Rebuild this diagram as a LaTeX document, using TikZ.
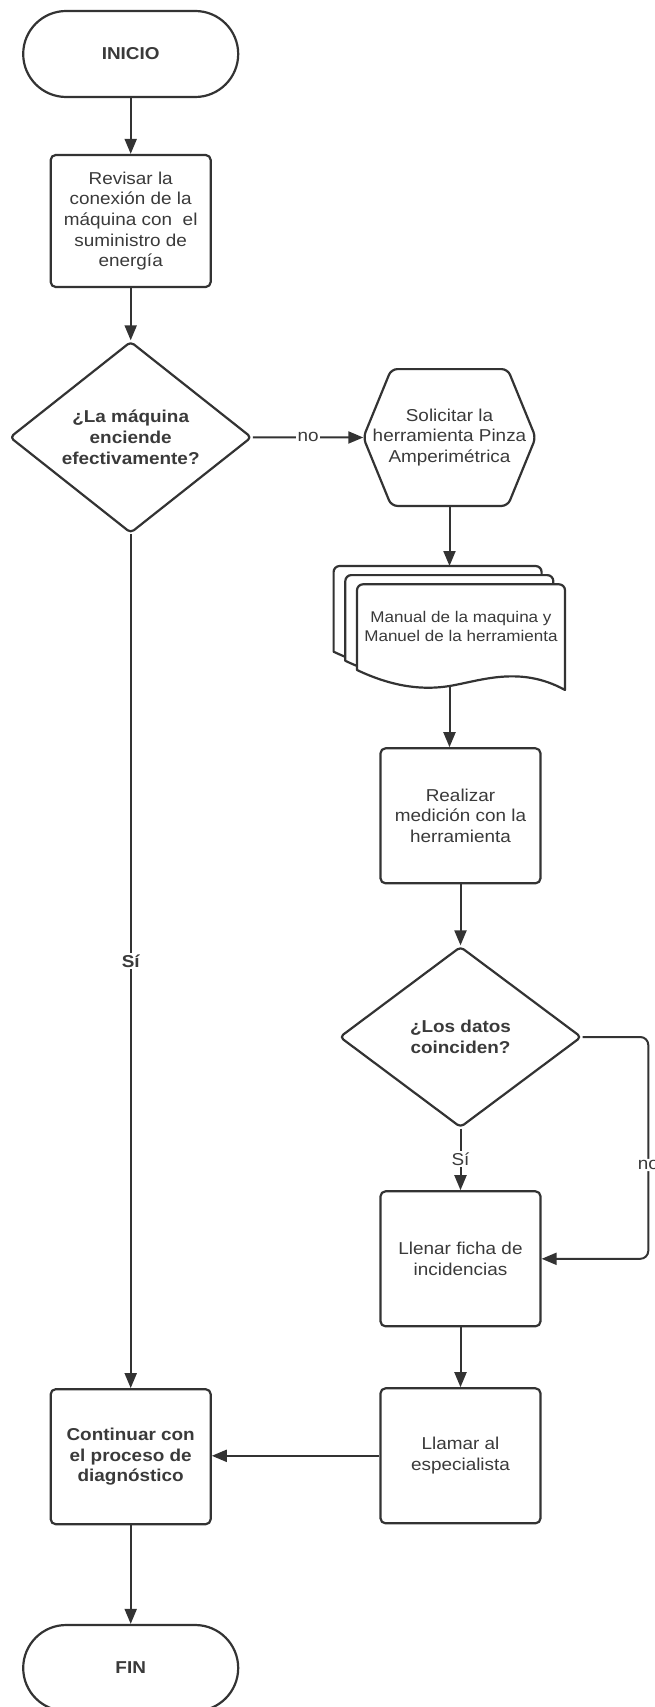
\documentclass[tikz,border=0pt]{standalone}
\usepackage{fontspec}
\setmainfont{Liberation Sans}[FakeStretch=1.1]
\usetikzlibrary{arrows.meta,shapes.geometric,calc}
\definecolor{ink}{HTML}{333333}
\definecolor{txt}{HTML}{3A3A3A}
\newcommand\mainsz{\fontsize{17.2pt}{20.6pt}\selectfont}
\newcommand\docsz{\fontsize{15.5pt}{19pt}\selectfont}

\begin{document}
\begin{tikzpicture}[x=1pt,y=-1pt,
  shp/.style={draw=ink, line width=2.2pt, fill=white, line join=round},
  proc/.style={shp, rectangle, rounded corners=5pt, minimum width=160pt,
    minimum height=135pt, inner sep=0pt, align=center, font=\mainsz, text=txt},
  term/.style={shp, rectangle, rounded corners=43pt, minimum width=215pt,
    minimum height=86pt, font=\mainsz\bfseries, text=txt},
  dec/.style={shp, diamond, minimum width=242pt, minimum height=182pt,
    inner sep=0pt, align=center, font=\mainsz\bfseries, text=txt, rounded corners=4pt},
  conn/.style={draw=ink, line width=2pt, -{Triangle[length=15pt,width=12pt]}},
  lbl/.style={fill=white, inner sep=1.5pt, font=\mainsz, text=txt},
]
% page frame
\path[use as bounding box, clip] (0,0) rectangle (654,1707);

% left column
\node[term] (inicio) at (130.7,54) {INICIO};
\node[proc, minimum height=132pt] (revisar) at (130.7,221)
  {Revisar la\\conexión de la\\máquina con\ \ el\\suministro de\\energía};
\node[dec] (d1) at (130.7,437.3) {¿La máquina\\enciende\\efectivamente?};
\node[proc] (continuar) at (130.7,1456.7)
  {\bfseries Continuar con\\\bfseries el proceso de\\\bfseries diagnóstico};
\node[term] (fin) at (130.7,1668) {FIN};

% hexagon: request the clamp meter
\node[align=center, font=\mainsz, text=txt, minimum width=172pt,
  minimum height=136.4pt, inner sep=0pt] (hex) at (449.5,437.5)
  {Solicitar la\\herramienta Pinza\\Amperimétrica};
\draw[shp, fill=none, rounded corners=6pt] (hex.west)
  -- ($(hex.north west)+(28,0)$) -- ($(hex.north east)+(-28,0)$)
  -- (hex.east) -- ($(hex.south east)+(-28,0)$)
  -- ($(hex.south west)+(28,0)$) -- cycle;

% stack of manuals (three sheets, back to front)
\foreach \dx/\dy in {-23.4/-18.3, -11.7/-9.2, 0/0} {
  \draw[shp, shift={(\dx,\dy)}] (357,670) [rounded corners=6pt] -- (357,584.3)
    -- (565,584.3) [sharp corners] -- (565,690)
    .. controls (520,665) and (480,681) .. (449.5,686)
    .. controls (425,690) and (395,688) .. (357,670) -- cycle;
}
\node[align=center, font=\docsz, text=txt] (doc) at (461,626)
  {Manual de la maquina y\\Manuel de la herramienta};
\coordinate (doctop) at (449.5,566);
\coordinate (docbot) at (449.5,686);

% right column
\node[proc] (realizar) at (460.5,815.8) {Realizar\\medición con la\\herramienta};
\node[dec, minimum height=181pt] (d2) at (460.5,1037) {¿Los datos\\coinciden?};
\node[proc] (llenar) at (460.5,1258.8) {Llenar ficha de\\incidencias};
\node[proc] (llamar) at (460.5,1455.8) {Llamar al\\especialista};
\coordinate (nr) at (648.3,1165);

% connectors
\draw[conn] (inicio.south) -- (revisar.north);
\draw[conn] (revisar.south) -- (d1.north);
\draw[conn] (d1.east) -- node[lbl]{no} (hex.west);
\draw[conn] (hex.south) -- (doctop);
\draw[conn] (docbot) -- (docbot |- realizar.north);
\draw[conn] (realizar.south) -- (d2.north);
\draw[conn] (d2.south) -- node[lbl]{Sí} (llenar.north);
\draw[conn, rounded corners=8pt] (d2.east) -| (nr) node[lbl]{no} |- (llenar.east);
\draw[conn] (llenar.south) -- (llamar.north);
\draw[conn] (llamar.west) -- (llamar.west -| continuar.east);
\draw[conn] (d1.south) -- node[lbl, font=\mainsz\bfseries]{Sí} (continuar.north);
\draw[conn] (continuar.south) -- (fin.north);
\end{tikzpicture}
\end{document}
